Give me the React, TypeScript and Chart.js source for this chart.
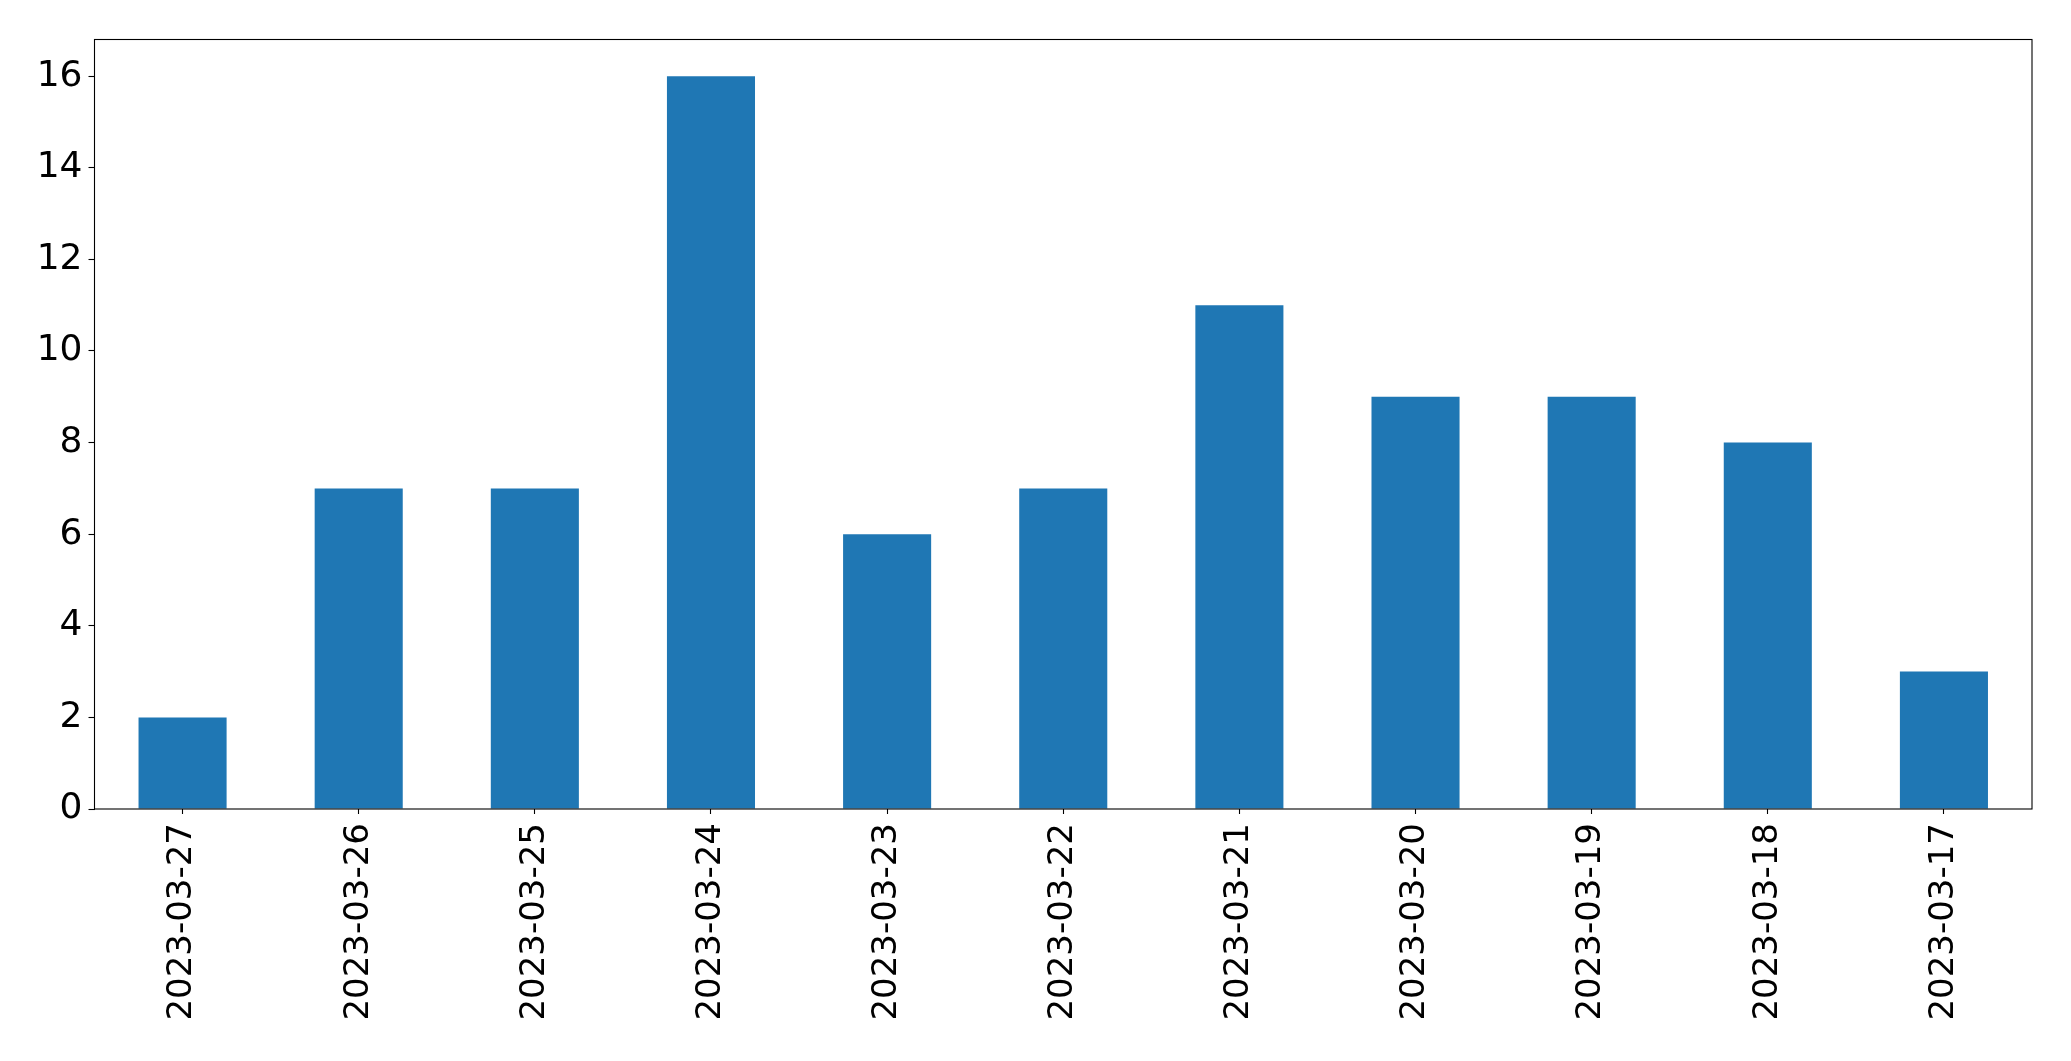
import React, { useEffect, useRef } from "react";
import { Chart, registerables } from "chart.js";

Chart.register(...registerables);

const categories = [
  "2023-03-27",
  "2023-03-26",
  "2023-03-25",
  "2023-03-24",
  "2023-03-23",
  "2023-03-22",
  "2023-03-21",
  "2023-03-20",
  "2023-03-19",
  "2023-03-18",
  "2023-03-17",
];
const counts = [2, 7, 7, 16, 6, 7, 11, 9, 9, 8, 3];
const yMax = 16.8;
const yStep = 2;

const W = 2071;
const H = 1061;
const FONT = "'DejaVu Sans', sans-serif";

const frame = {
  id: "frame",
  afterDraw(chart: any) {
    const { ctx, chartArea } = chart;
    ctx.save();
    ctx.strokeStyle = "#000";
    ctx.lineWidth = 1.1;
    ctx.strokeRect(chartArea.left, chartArea.top, chartArea.right - chartArea.left, chartArea.bottom - chartArea.top);
    ctx.restore();
  },
};

export default function App() {
  const ref = useRef<HTMLCanvasElement>(null);
  useEffect(() => {
    if (!ref.current) return;
    const chart = new Chart(ref.current, {
      type: "bar",
      data: {
        labels: categories,
        datasets: [
          {
            data: counts,
            backgroundColor: "#1f77b4",
            borderWidth: 0,
            barPercentage: 0.5,
            categoryPercentage: 1,
          },
        ],
      },
      options: {
        responsive: false,
        animation: false,
        devicePixelRatio: 1,
        layout: { padding: { top: 39.5, right: 39, left: 0, bottom: 0 } },
        plugins: { legend: { display: false }, tooltip: { enabled: false } },
        scales: {
          x: {
            offset: true,
            grid: {
              offset: false,
              drawOnChartArea: false,
              drawTicks: true,
              tickLength: 5,
              tickColor: "#000",
              tickWidth: 1.1,
            },
            border: { display: false },
            ticks: {
              autoSkip: false,
              maxRotation: 90,
              minRotation: 90,
              color: "#000",
              padding: 9,
              font: { family: FONT, size: 34 },
            },
            afterFit(scale: any) {
              scale.height = H - 809;
            },
          },
          y: {
            min: 0,
            max: yMax,
            grid: {
              drawOnChartArea: false,
              drawTicks: true,
              tickLength: 6,
              tickColor: "#000",
              tickWidth: 1.1,
            },
            border: { display: false },
            ticks: {
              stepSize: yStep,
              includeBounds: false,
              color: "#000",
              padding: 6,
              font: { family: FONT, size: 36 },
            },
            afterFit(scale: any) {
              scale.width = 94.5;
            },
          },
        },
      },
      plugins: [frame],
    });
    return () => chart.destroy();
  }, []);
  return (
    <div style={{ position: "absolute", left: 0, top: 0, width: W, height: H, background: "#fff" }}>
      <canvas ref={ref} width={W} height={H} style={{ width: W, height: H }} />
    </div>
  );
}
